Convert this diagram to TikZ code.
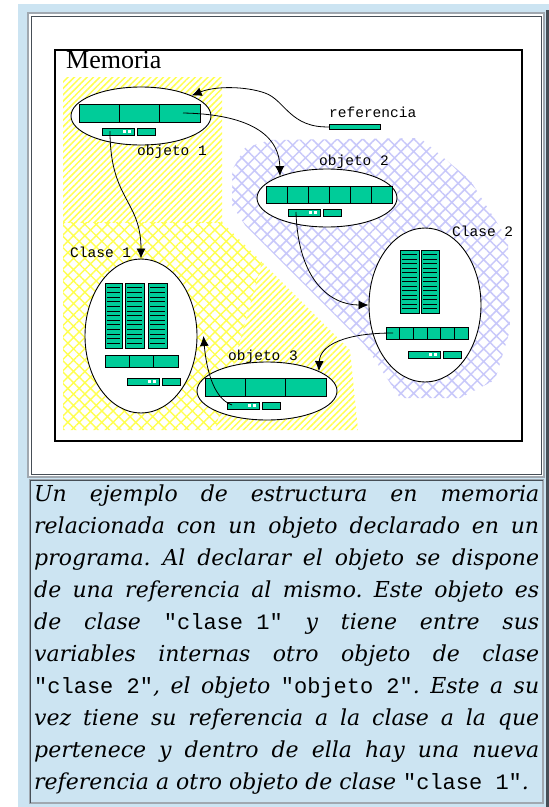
\documentclass[tikz,border=0pt]{standalone}
\usepackage{fontspec}
\setmainfont{DejaVu Serif}
\setmonofont{Liberation Mono}
\newfontfamily\memfont{Liberation Serif}
\usetikzlibrary{shapes.geometric,arrows.meta,patterns.meta}

\definecolor{verde}{RGB}{0,204,153}
\definecolor{celeste}{RGB}{204,228,242}
\definecolor{amarillo}{RGB}{255,255,80}
\definecolor{lila}{RGB}{200,200,250}
\definecolor{gborde}{RGB}{160,168,176}
\definecolor{oborde}{RGB}{70,78,86}

\tikzset{
  celda/.style={draw=black, fill=verde, line width=0.8pt},
  caja/.style={ellipse, draw=black, fill=white, line width=0.9pt, inner sep=0pt},
  etiqueta/.style={font=\fontsize{14.5}{15}\selectfont\ttfamily, inner sep=0pt},
  flecha/.style={-{Latex[length=10pt,width=9pt]}, line width=0.8pt},
}

\newcommand{\barra}[5]{% x, y, celdas, ancho de celda, alto
  \foreach \i in {1,...,#3}
    \draw[celda] ({#1+(\i-1)*#4},#2) rectangle ++(#4,#5);}
\newcommand{\pequena}[2]{%
  \draw[celda] (#1,#2) rectangle ++(32,7);
  \fill[white] ({#1+21},{#2+2}) rectangle ++(3,3);
  \fill[white] ({#1+26},{#2+2}) rectangle ++(3,3);
  \draw[celda] ({#1+35},#2) rectangle ++(18,7);}
\newcommand{\columna}[4]{%
  \draw[celda] (#1,#2) rectangle ++(#3,#4);
  \foreach \k in {1,...,13}
    \draw[line width=0.7pt] ({#1+2},{#2+\k*#4/14}) -- ++({#3-4},0);}
\newcommand{\cod}[1]{{\upshape\ttfamily #1}}

\begin{document}
\begin{tikzpicture}[x=1pt, y=-1pt]
  \useasboundingbox (0,0) rectangle (549,807);
  \fill[white] (0,0) rectangle (549,807);
  \fill[celeste] (18,4) rectangle (549,807);
  \fill[oborde] (546,10) rectangle (549,807);

  % panel del dibujo
  \fill[white] (28,13) rectangle (544,477);
  \draw[gborde, line width=1.5pt] (28,13) rectangle (544,477);
  \draw[oborde, line width=1pt] (31,16) rectangle (541,474);

  % panel del texto
  \draw[gborde, line width=1.5pt] (30,480) rectangle (543,803);
  \draw[oborde, line width=1pt] (30,803) |- (543,480);

  % zonas rayadas
  \fill[pattern={Lines[angle=45,distance=4.5pt,line width=1.5pt]}, pattern color=amarillo]
    (63,77) -- (222,77) -- (222,222) -- (63,222) -- cycle;
  \fill[pattern={Hatch[angle=45,distance=8pt,line width=1.4pt]}, pattern color=amarillo]
    (63,222) -- (222,222) -- (262,262) -- (215,430) -- (63,430) -- cycle;
  \fill[pattern={Lines[angle=45,distance=4.5pt,line width=1.5pt]}, pattern color=amarillo]
    (262,262) -- (350,350) -- (358,430) -- (215,430) -- cycle;
  \fill[pattern={Hatch[angle=45,distance=9pt,line width=1.5pt]}, pattern color=lila]
    (232,170) -- (245,148) -- (270,140) -- (420,138) -- (470,180) -- (508,240) -- (510,330)
    -- (495,380) -- (460,398) -- (400,398) -- (365,345) -- (245,225) -- (232,205) -- cycle;

  \draw[line width=2.5pt] (55,50) rectangle (522,441);
  \node[anchor=base west, inner sep=0pt, font=\memfont\fontsize{26}{26}\selectfont] (memoria) at (66,68) {Memoria};

  % objetos y clases
  \node[caja, minimum width=140pt, minimum height=58pt] (ob1) at (141,116) {};
  \node[caja, minimum width=140pt, minimum height=58pt] (ob2) at (327,198) {};
  \node[caja, minimum width=140pt, minimum height=58pt] (ob3) at (267,391) {};
  \node[caja, minimum width=112pt, minimum height=154pt] (cl1) at (141,336) {};
  \node[caja, minimum width=112pt, minimum height=154pt] (cl2) at (425,305) {};

  \node[etiqueta, anchor=base west] (lob1) at (137,155) {objeto 1};
  \node[etiqueta, anchor=base west] (lob2) at (319,165) {objeto 2};
  \node[etiqueta, anchor=base west] (lob3) at (228,360) {objeto 3};
  \node[etiqueta, anchor=base west] (lcl1) at (70,257) {Clase 1};
  \node[etiqueta, anchor=base west] (lcl2) at (452,236) {Clase 2};
  \node[etiqueta, anchor=base west] (lref) at (329,117) {referencia};
  \node[celda, anchor=north west, inner sep=0pt, minimum width=51pt, minimum height=5pt] (refbar) at (329,124) {};

  \barra{79}{104}{3}{40.33}{18}
  \pequena{102}{128}
  \barra{266}{186}{6}{21}{17}
  \pequena{288}{209}
  \columna{400}{250}{19}{63}
  \columna{421}{250}{18}{63}
  \barra{386}{327}{6}{13.67}{12}
  \pequena{408}{351}
  \columna{105}{283}{17}{65}
  \columna{125}{283}{19}{65}
  \columna{148}{283}{19}{65}
  \barra{105}{355}{3}{24.33}{12}
  \pequena{127}{378}
  \barra{205}{378}{3}{40.33}{18}
  \pequena{227}{402}

  % referencias
  \coordinate (p1) at (183,113);
  \coordinate (p2) at (110,131);
  \coordinate (p3) at (296,212);
  \coordinate (p4) at (393,333);
  \coordinate (p5) at (232,405);

  \draw[flecha] (refbar.west) .. controls (290,128) and (285,100) .. (265,93)
    .. controls (245,86) and (215,86) .. (ob1.22);
  \draw[flecha] (p1) .. controls (240,114) and (279,130) .. (ob2.155);
  \draw[flecha] (p2) .. controls (110,200) and (141,200) .. (cl1.north);
  \draw[flecha] (p3) .. controls (298,280) and (330,305) .. (cl2.west);
  \draw[flecha] (p4) .. controls (345,333) and (320,345) .. (ob3.21);
  \draw[flecha] (p5) .. controls (212,398) and (206,365) .. ([xshift=6pt]cl1.east);

  \node[anchor=base west, text width=505pt, align=justify, inner sep=0pt,
        font=\itshape\fontsize{22}{32}\selectfont\frenchspacing] (pie) at (34,501)
    {Un ejemplo de estructura en memoria\linebreak
     relacionada con un objeto declarado en un\linebreak
     programa. Al declarar el objeto se dispone\linebreak
     de una referencia al mismo. Este objeto es\linebreak
     de clase \cod{"clase 1"} y tiene entre sus\linebreak
     variables internas otro objeto de clase\linebreak
     \cod{"clase 2"}, el objeto \cod{"objeto 2"}. Este a su\linebreak
     vez tiene su referencia a la clase a la que\linebreak
     pertenece y dentro de ella hay una nueva\linebreak
     referencia a otro objeto de clase \cod{"clase 1"}.\parfillskip=0pt};
\end{tikzpicture}
\end{document}
